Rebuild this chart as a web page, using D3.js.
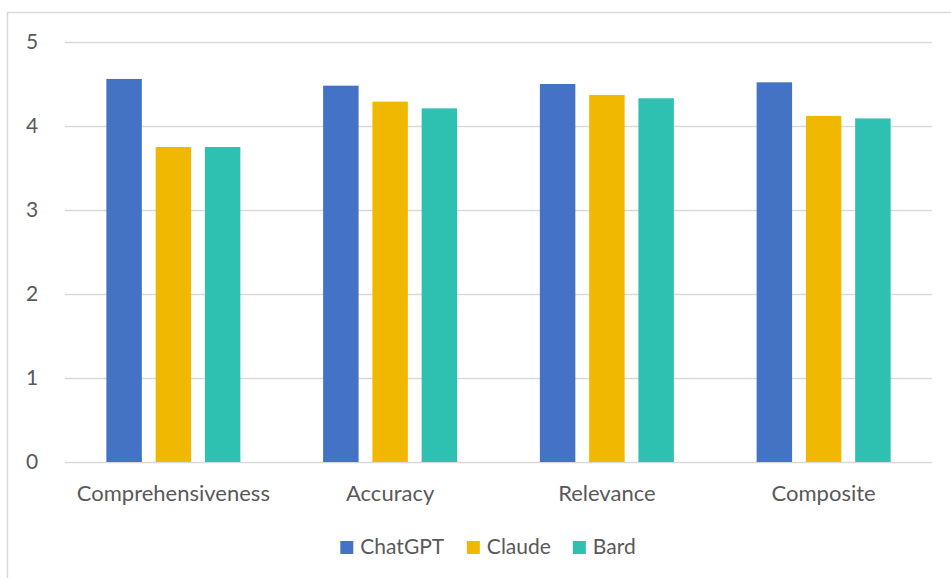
<!DOCTYPE html>
<html>
<head>
<meta charset="utf-8">
<script src="https://cdn.jsdelivr.net/npm/d3@7"></script>
<style>
  html, body { margin: 0; padding: 0; background: #fff; }
  svg { display: block; }
  text { font-family: Lato, "Open Sans", sans-serif; fill: #595959; }
</style>
</head>
<body>
<script>
const categories = ["Comprehensiveness", "Accuracy", "Relevance", "Composite"];
const seriesNames = ["ChatGPT", "Claude", "Bard"];
const chatgpt = [4.56, 4.48, 4.50, 4.52];
const claude = [3.75, 4.29, 4.37, 4.12];
const bard = [3.75, 4.21, 4.33, 4.09];
const yTicks = [0, 1, 2, 3, 4, 5];
const colors = ["#4472C4", "#F0B800", "#2EC0B0"];

(function () {
const seriesValues = [chatgpt, claude, bard];
const W = 951, H = 578;
const svg = d3.select("body").append("svg").attr("width", W).attr("height", H);

// outer frame (cropped)
svg.append("rect").attr("x", 7.5).attr("y", 12.5).attr("width", 1000).attr("height", 700)
  .attr("fill", "none").attr("stroke", "#d9d9d9").attr("stroke-width", 1.5);

const pl = 65, pr = 932, pt = 42, pb = 462;
const x = d3.scaleBand().domain(categories).range([pl, pr]).paddingInner(0).paddingOuter(0);
const y = d3.scaleLinear().domain([0, 5]).range([pb, pt]);
const inner = d3.scaleBand().domain(seriesNames).range([0, 134]).paddingInner(0.28);

// gridlines
svg.append("g").selectAll("line").data(yTicks).join("line")
  .attr("x1", pl).attr("x2", pr)
  .attr("y1", d => y(d) + 0.5).attr("y2", d => y(d) + 0.5)
  .attr("stroke", "#d9d9d9").attr("stroke-width", 1.5);

// y labels
svg.append("g").selectAll("text").data(yTicks).join("text")
  .attr("x", 32).attr("y", d => y(d)).attr("dy", "0.35em")
  .attr("text-anchor", "middle").attr("font-size", 21)
  .text(d => d);

// bars
const groups = svg.append("g").selectAll("g").data(categories).join("g")
  .attr("transform", c => `translate(${x(c) + x.bandwidth() / 2 - 67},0)`);
groups.selectAll("rect").data((c, i) => seriesNames.map((s, j) => ({ s, v: seriesValues[j][i], j })))
  .join("rect")
  .attr("x", d => inner(d.s))
  .attr("width", inner.bandwidth())
  .attr("y", d => y(d.v))
  .attr("height", d => y(0) - y(d.v))
  .attr("fill", d => colors[d.j]);

// x labels
svg.append("g").selectAll("text").data(categories).join("text")
  .attr("x", c => x(c) + x.bandwidth() / 2).attr("y", 501)
  .attr("text-anchor", "middle").attr("font-size", 22)
  .text(c => c);

// legend
const legend = svg.append("g");
const items = legend.selectAll("g").data(seriesNames).join("g");
items.append("rect").attr("width", 13).attr("height", 13).attr("y", -6)
  .attr("fill", (d, i) => colors[i]);
items.append("text").attr("x", 20).attr("dy", "0.35em").attr("font-size", 21).text(d => d);
let lx = 0;
const offs = [];
items.each(function () {
  const w = this.getBBox().width;
  offs.push(lx);
  lx += w + 22;
});
const total = lx - 22;
const startX = 488 - total / 2;
items.attr("transform", (d, i) => `translate(${startX + offs[i]},547)`);
})();
</script>
</body>
</html>
